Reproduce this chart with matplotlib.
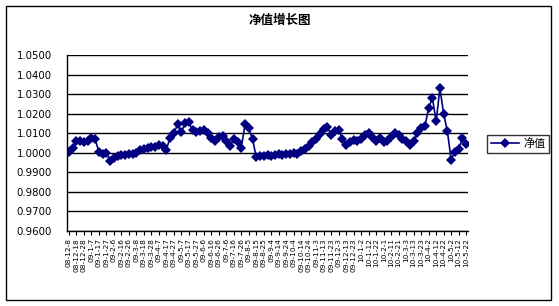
import numpy as np
import pandas as pd
import matplotlib
matplotlib.use("Agg")
import matplotlib.pyplot as plt
from matplotlib.patches import Rectangle

plt.rcParams['font.family'] = ['Noto Sans CJK SC', 'DejaVu Sans']

# 净值, one reading every 5 days starting 2008-12-08
nav = [1.0003, 1.0025, 1.0058, 1.0060, 1.0055, 1.0062, 1.0075, 1.0070, 1.0005, 0.9992,
       1.0000, 0.9960, 0.9975, 0.9982, 0.9988, 0.9990, 0.9992, 0.9995, 1.0000, 1.0012,
       1.0018, 1.0022, 1.0028, 1.0030, 1.0040, 1.0035, 1.0015, 1.0078, 1.0100, 1.0145,
       1.0105, 1.0150, 1.0155, 1.0115, 1.0105, 1.0112, 1.0115, 1.0100, 1.0075, 1.0062,
       1.0080, 1.0085, 1.0060, 1.0035, 1.0070, 1.0055, 1.0025, 1.0145, 1.0125, 1.0070,
       0.9978, 0.9982, 0.9985, 0.9988, 0.9985, 0.9990, 0.9992, 0.9990, 0.9995, 0.9992,
       0.9998, 0.9995, 1.0008, 1.0020, 1.0035, 1.0055, 1.0070, 1.0095, 1.0120, 1.0130,
       1.0090, 1.0110, 1.0115, 1.0070, 1.0042, 1.0055, 1.0065, 1.0062, 1.0070, 1.0090,
       1.0100, 1.0080, 1.0060, 1.0075, 1.0055, 1.0060, 1.0080, 1.0100, 1.0090, 1.0070,
       1.0058, 1.0038, 1.0060, 1.0100, 1.0125, 1.0135, 1.0230, 1.0280, 1.0160, 1.0330,
       1.0200, 1.0110, 0.9965, 1.0005, 1.0020, 1.0075, 1.0045]

# tick labels every 10 days
label_dates = pd.date_range('2008-12-08', periods=54, freq='10D')
tick_labels = [f"{d.year % 100:02d}-{d.month}-{d.day}" for d in label_dates]
y_ticks = [0.96, 0.97, 0.98, 0.99, 1.00, 1.01, 1.02, 1.03, 1.04, 1.05]

fig = plt.figure(figsize=(5.59, 3.06), dpi=100)
fig.patches.append(Rectangle((6 / 559, 1 - 300 / 306), 545 / 559, 294 / 306,
                             transform=fig.transFigure, fill=False,
                             edgecolor='black', lw=1))

ax = fig.add_axes([67 / 559, 1 - 231 / 306, 401 / 559, 176 / 306])
x = np.arange(len(nav))
ax.plot(x, nav, color='#000080', lw=1.2, marker='D', markersize=5,
        markeredgewidth=0, label='净值')

ax.set_ylim(0.96, 1.05)
ax.set_yticks(y_ticks)
ax.set_yticklabels([f"{v:.4f}" for v in y_ticks], fontsize=7.3, family='DejaVu Sans')
ax.yaxis.grid(True, color='black', lw=1)
ax.set_axisbelow(True)

ax.set_xlim(-0.5, len(nav) - 0.5)
ax.set_xticks(np.arange(0, len(nav), 2))
ax.set_xticklabels(tick_labels, rotation=90, fontsize=5.3, family='DejaVu Sans')
ax.tick_params(axis='x', length=3, width=0.8, pad=2)
ax.tick_params(axis='y', length=0, pad=11)

for s in ['top', 'right']:
    ax.spines[s].set_visible(False)
for s in ['left', 'bottom']:
    ax.spines[s].set_color('black')
    ax.spines[s].set_linewidth(1)

leg = fig.legend(loc='center', bbox_to_anchor=(518 / 559, 1 - 144 / 306),
                 fontsize=8, frameon=True, fancybox=False, handlelength=2.5,
                 borderpad=0.3, handletextpad=0.4)
leg.get_frame().set_edgecolor('black')
leg.get_frame().set_linewidth(1)

fig.text(280 / 559, 1 - 20 / 306, '净值增长图', ha='center', va='center',
         fontsize=9, fontweight='bold')

fig.savefig('out.png', dpi=100)
